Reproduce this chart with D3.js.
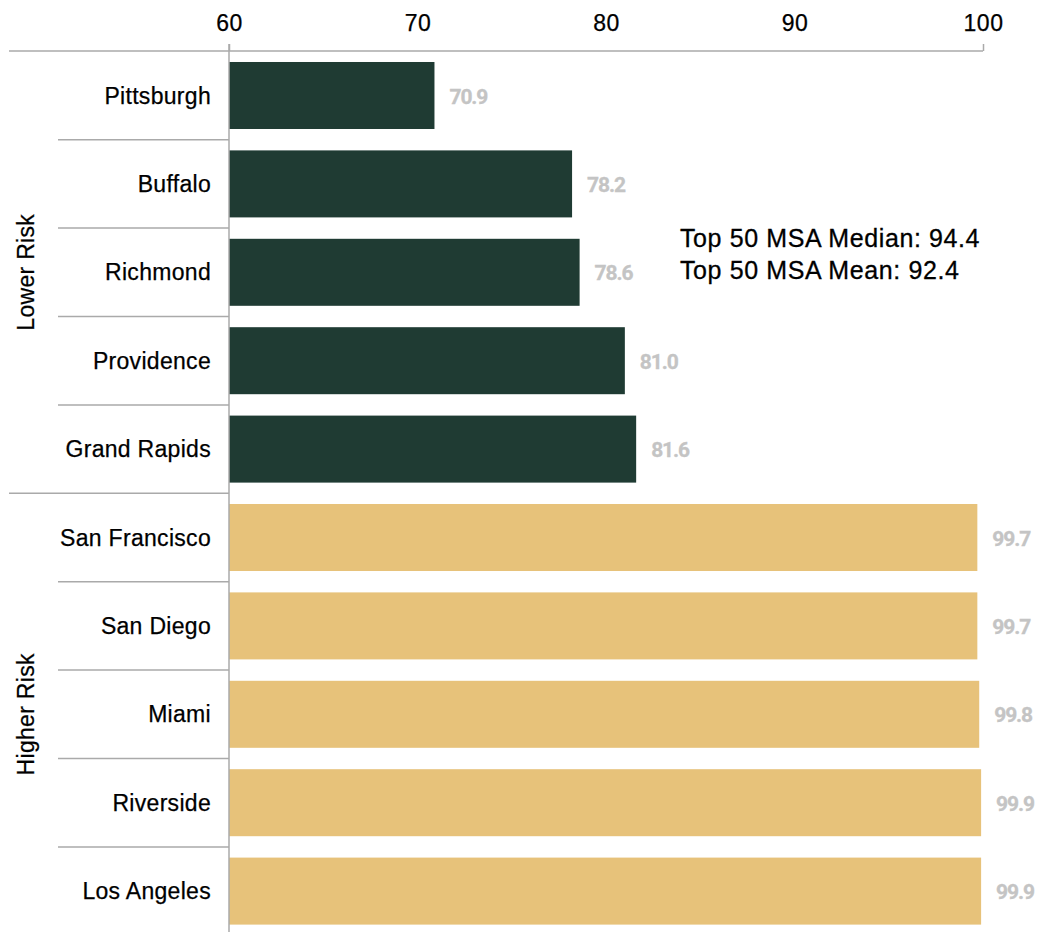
<!DOCTYPE html>
<html><head><meta charset="utf-8">
<script src="https://cdn.jsdelivr.net/npm/d3@7"></script>
<style>html,body{margin:0;padding:0;background:#fff;}svg{display:block;}</style>
</head><body>
<script>
const cities = ["Pittsburgh","Buffalo","Richmond","Providence","Grand Rapids","San Francisco","San Diego","Miami","Riverside","Los Angeles"];
const values = [70.9,78.2,78.6,81.0,81.6,99.7,99.7,99.8,99.9,99.9];
const groups = ["Lower Risk","Lower Risk","Lower Risk","Lower Risk","Lower Risk","Higher Risk","Higher Risk","Higher Risk","Higher Risk","Higher Risk"];
const groupNames = ["Lower Risk","Higher Risk"];
const tickValues = [60,70,80,90,100];
const notes = ["Top 50 MSA Median: 94.4","Top 50 MSA Mean: 92.4"];

const W = 1039, H = 932;
const svg = d3.select("body").append("svg").attr("width", W).attr("height", H);
const font = "'Liberation Sans', Arial, Helvetica, sans-serif";

const x = d3.scaleLinear().domain([60,100]).range([229,983]);
const y = d3.scaleBand().domain(cities).range([51.3, 935.3]).paddingInner(0.242).paddingOuter(0.121);
const color = d3.scaleOrdinal().domain(groupNames).range(["#1f3b33","#e7c27a"]);

// bars
svg.selectAll("rect.bar").data(cities).join("rect")
  .attr("x", x(60)).attr("y", d => y(d))
  .attr("width", (d,i) => x(values[i]) - x(60))
  .attr("height", y.bandwidth())
  .attr("fill", (d,i) => color(groups[i]));

// value labels
svg.selectAll("text.val").data(cities).join("text")
  .attr("x", (d,i) => x(values[i]) + 15)
  .attr("y", d => y(d) + y.bandwidth()/2 + 8)
  .attr("font-family", "Roboto, sans-serif").attr("font-weight", "bold")
  .attr("font-size", 21).attr("letter-spacing", -1.1).attr("fill", "#c4c4c4")
  .attr("stroke", "#c4c4c4").attr("stroke-width", 0.3)
  .text((d,i) => values[i].toFixed(1));

// top axis
const axis = d3.axisTop(x).tickValues(tickValues).tickSize(7).tickPadding(13);
const ag = svg.append("g").attr("transform", "translate(0,51)").call(axis);
ag.select(".domain").remove();
ag.selectAll(".tick line").attr("stroke", "#aaa").attr("stroke-width", 1.5)
  .attr("y2", (d) => (d===60||d===100) ? -7 : 0);
ag.selectAll(".tick text").attr("font-family", font).attr("font-size", 23).attr("fill", "#000")
  .attr("letter-spacing", 0.5).attr("stroke", "#000").attr("stroke-width", 0.25);
svg.append("line").attr("x1", 9).attr("x2", x(100)).attr("y1", 51).attr("y2", 51)
  .attr("stroke", "#aaa").attr("stroke-width", 1.5);

// vertical baseline
svg.append("line").attr("x1", x(60)).attr("x2", x(60)).attr("y1", 44).attr("y2", H)
  .attr("stroke", "#aaa").attr("stroke-width", 1.5);

// separators
const step = y.step();
cities.forEach((c,i) => {
  if (i === 0) return;
  const yy = y(c) - step*y.paddingInner()/2;
  const isGroup = groups[i] !== groups[i-1];
  svg.append("line").attr("x1", isGroup ? 9 : 58).attr("x2", x(60))
    .attr("y1", yy).attr("y2", yy).attr("stroke", "#aaa").attr("stroke-width", 1.5);
});

// category labels
svg.selectAll("text.cat").data(cities).join("text")
  .attr("x", 211).attr("y", d => y(d) + y.bandwidth()/2 + 8)
  .attr("text-anchor", "end").attr("font-family", font).attr("font-size", 23)
  .attr("letter-spacing", 0.3).attr("fill", "#000").attr("stroke", "#000").attr("stroke-width", 0.25)
  .text(d => d);

// group labels
groupNames.forEach(g => {
  const members = cities.filter((c,i) => groups[i] === g);
  const top = y(members[0]) - step*y.paddingInner()/2;
  const bot = y(members[members.length-1]) + y.bandwidth() + step*y.paddingInner()/2;
  const cy = (top + bot)/2;
  svg.append("text").attr("transform", `translate(34,${cy}) rotate(-90)`)
    .attr("text-anchor", "middle").attr("font-family", font).attr("font-size", 23)
    .attr("letter-spacing", 0.3).attr("fill", "#000").attr("stroke", "#000").attr("stroke-width", 0.25)
    .text(g);
});

// annotation
notes.forEach((n,i) => {
  svg.append("text").attr("x", 680).attr("y", 247 + i*32)
    .attr("font-family", font).attr("font-size", 25).attr("letter-spacing", 0.6)
    .attr("fill", "#000").attr("stroke", "#000").attr("stroke-width", 0.3).text(n);
});
</script>
</body></html>
